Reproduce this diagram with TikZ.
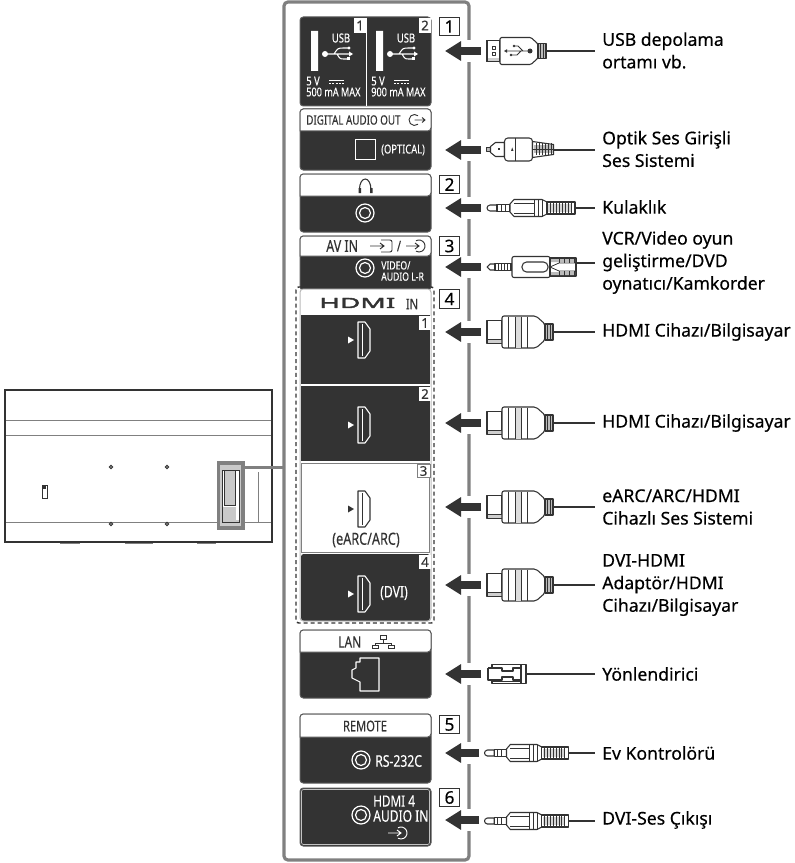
\documentclass[tikz,border=0pt]{standalone}
\usepackage{fontspec}
\usetikzlibrary{arrows.meta}
\setmainfont{Noto Sans}
\newfontfamily\labfont[FakeBold=0.4]{Noto Sans}
\newfontfamily\panfont[FakeStretch=0.76,FakeBold=0.2]{Noto Sans}
\newfontfamily\logofont[FakeStretch=2.0,FakeBold=3]{Noto Sans}
\newfontfamily\numfont[FakeBold=0.2]{Noto Sans}
\definecolor{dk}{HTML}{333333}
\definecolor{fr}{HTML}{808080}
\definecolor{lg}{HTML}{BBBBBB}
\tikzset{
 x=0.75pt,y=-0.75pt,
 lab/.style={anchor=west,inner sep=0,align=left,text=black,font=\labfont\fontsize{13.2}{16.9}\selectfont},
 pw/.style={text=white,inner sep=0,font=\panfont\fontsize{9.3}{10}\selectfont},
 pb/.style={text=dk,inner sep=0,font=\panfont\fontsize{9.7}{10}\selectfont},
 pws/.style={text=white,inner sep=0,align=left,font=\panfont\fontsize{8.5}{8.4}\selectfont},
 num/.style={draw=dk,line width=.75pt,fill=white,inner sep=0,minimum width=15pt,minimum height=14pt,font=\numfont\fontsize{13}{13}\selectfont},
 bdg/.style={fill=white,inner sep=0,minimum width=9.5pt,minimum height=10.5pt,font=\numfont\fontsize{10}{10}\selectfont,text=dk},
 frame/.style={draw=fr,line width=2.4pt,rounded corners=3pt},
 pl/.style={draw=dk,line width=.8pt,line join=round},
 cable/.style={draw=dk,line width=1.3pt,shorten >=5.2pt},
 bigarr/.style={draw=dk,line width=6pt,-{Triangle[length=12pt,width=14pt]}},
 pan/.style={draw=dk!80,line width=.75pt,fill=dk},
 panh/.style={draw=dk!80,line width=.75pt,fill=white},
 hdmiplug/.pic={
  \path[pl,fill=white] (0,-11.5) rectangle (15,11.5);
  \fill[lg!70] (0.5,7) rectangle (14.5,11);
  \draw[pl,line width=.6pt] (0,7)--(15,7);
  \path[pl,fill=white,rounded corners=1.5pt] (15,-16)--(49,-16)--(58,-8)--(58,8)--(49,16)--(15,16)--cycle;
  \fill[lg!50] (28,-15.5) rectangle (34.6,15.5);
  \foreach \q in {21,28,34.6,40}{\draw[pl,line width=.6pt] (\q,-15.5)--(\q,15.5);}
  \path[pl,fill=lg] (58,-8) rectangle (66,8);
  \foreach \q in {60.5,63}{\draw[dk,line width=.5pt] (\q,-8)--(\q,8);}
 },
 usbplug/.pic={
  \path[pl,fill=white] (0,-10.5) rectangle (13,10.5);
  \fill[lg!70] (0,7.5) rectangle (13,10.5);
  \draw[pl] (0,-10.5) rectangle (13,10.5);
  \draw[pl,line width=.6pt] (5.5,-4.5) rectangle (8.5,-1.5) (5.5,1.5) rectangle (8.5,4.5);
  \path[pl,fill=white,rounded corners=1pt] (13,-13.5)--(44,-13.5)--(51,-7)--(51,7)--(44,13.5)--(13,13.5)--cycle;
  \path[pl,fill=lg] (51,-7.5) rectangle (59,7.5);
  \foreach \q in {53.5,56}{\draw[dk,line width=.5pt] (\q,-7.5)--(\q,7.5);}
  \fill[dk] (43,0) circle (2.5);
  \draw[pl,line width=.7pt] (43,0)--(20,0) (36,0)--(31,-5)--(27,-5) (34,0)--(30,4)--(24,4);
  \fill[dk] (27,-5) circle (1.3) (24,4) circle (1.3) (20,-1.8)--(20,1.8)--(17,0)--cycle;
 },
 optplug/.pic={
  \path[pl,fill=lg] (0,-2) rectangle (4,2);
  \path[pl,fill=white] (4,-3)--(9,-7)--(18,-7)--(18,7)--(9,7)--(4,3)--cycle;
  \fill[dk] (11,-1) rectangle (13,1);
  \path[pl,fill=white,rounded corners=2.5pt] (18,-11.5) rectangle (46,11.5);
  \draw[pl] (29,-11.5)--(29,11.5);
  \fill[dk] (24.5,1.5)--(27,1.5)--(25.7,-2)--cycle;
  \path[pl,fill=white] (46,-8)--(67,-5)--(67,5)--(46,8)--cycle;
  \fill[lg] (47,-4) rectangle (66,4);
  \foreach \q in {50,53,56,59,62,65}{\draw[dk,line width=.55pt] (\q,-6)--(\q,6);}
  \draw[dk,line width=.9pt] (46,0)--(67,0);
 },
 jackplug/.pic={
  \path[pl,fill=white] (10,-3)--(3,-3)..controls (1,-3) and (0,-1) ..(0,0)..controls (0,1) and (1,3) ..(3,3)--(10,3)--cycle;
  \path[pl,fill=white] (10,-3.5) rectangle (23,3.5);
  \foreach \q in {14,18}{\draw[pl,line width=.6pt] (\q,-3.5)--(\q,3.5);}
  \path[pl,fill=white] (23,-4)--(27,-8.5)--(55,-8.5)--(60,-6)--(60,6)--(55,8.5)--(27,8.5)--(23,4)--cycle;
  \draw[pl,line width=.6pt] (27,-5)--(47,-5) (27,5)--(47,5) (47,-8.5)--(47,8.5) (55,-8.5)--(55,8.5) (51,-8.5)--(51,8.5);
  \path[pl,fill=white] (60,-6) rectangle (88,6);
  \fill[lg!60] (61,-4) rectangle (84,4);
  \foreach \q in {63,66,...,84}{\draw[dk,line width=.55pt] (\q,-5.5)--(\q,5.5);}
 },
 vcrplug/.pic={
  \path[pl,fill=white] (8,-3)--(3,-3)--(0,0)--(3,3)--(8,3)--cycle;
  \path[pl,fill=white] (8,-3.5) rectangle (25,3.5);
  \foreach \q in {11,14,17,20,23}{\draw[dk,line width=.6pt] (\q,-3.5)--(\q,3.5);}
  \path[pl,fill=white,rounded corners=1.5pt] (25,-10.5) rectangle (63,10.5);
  \path[pl,fill=white,rounded corners=3.4pt] (35,-5) rectangle (61,5);
  \path[pl,fill=white] (63,-9) rectangle (89,9);
  \fill[lg] (64,-8) rectangle (88,-5) (64,5) rectangle (88,8);
  \draw[pl,line width=.6pt] (63,0)--(72,-4)--(89,-4) (63,0)--(72,4)--(89,4);
  \foreach \q in {72,77,82,87}{\draw[dk,line width=.55pt] (\q,-9)--(\q,-4) (\q,4)--(\q,9);}
 },
 lanplug/.pic={
  \path[pl,fill=white] (4,-9.5) rectangle (38,9.5);
  \draw[pl,fill=white] (0,-6)--(4,-6) (0,-6)--(0,6)--(14,6)--(14,3)--(25,3)--(25,6)--(33,6)--(33,-6)--(25,-6)--(25,-3)--(14,-3)--(14,-6)--(4,-6);
  \draw[pl] (33,-9.5)--(33,9.5);
  \draw[pl,line width=.6pt] (4,6)--(4,9.5) (4,7.5)--(33,7.5);
 },
 usbsym/.pic={
  \fill[white] (-14,0) circle (3);
  \draw[white,line width=.8pt] (-14,0)--(11,0) (-5,0)..controls(-1,-6)..(5,-6)--(10,-6) (-2,0)..controls(1,5)..(5,5)--(9,5);
  \fill[white] (14,0)--(10,-2.5)--(10,2.5)--cycle (10,-6) circle (1.6);
  \fill[white] (8,3.5) rectangle (11,6.5);
 },
 jacksym/.pic={
  \draw[white,line width=.9pt] (0,0) circle (9);
  \draw[white,line width=.9pt] (0,0) circle (5.5);
 },
 hdmiport/.pic={
  \draw[tikzcolor,line width=.8pt,line join=round] (-6,-18)--(1,-18)--(6,-11)--(6,11)--(1,18)--(-6,18)--cycle;
  \draw[tikzcolor,line width=.6pt] (-2,-16)--(-2,16);
  \fill[tikzcolor] (-16,-3.5)--(-10,0)--(-16,3.5)--cycle;
 },
 insym/.pic={
  \draw[tikzcolor,line width=.7pt] (-13,0)--(0,0) (-4,-3)--(0,0)--(-4,3);
  \draw[tikzcolor,line width=.7pt] (0,0) ++(-120:6) arc[start angle=-120,end angle=120,radius=6];
 },
 insymb/.pic={
  \draw[tikzcolor,line width=.7pt] (-14,0)--(0,0) (-4,-3)--(0,0)--(-4,3);
  \draw[tikzcolor,line width=.7pt,rounded corners=1.5pt] (-3,-6) -- (8,-6) -- (8,6) -- (-3,6);
 },
 outsym/.pic={
  \draw[tikzcolor,line width=.7pt] (0,0)--(10.5,0) (7.5,-2.5)--(10.5,0)--(7.5,2.5);
  \draw[tikzcolor,line width=.7pt] (0,0) ++(50:5.5) arc[start angle=50,end angle=310,radius=5.5];
 },
}
\colorlet{tikzcolor}{dk}
\begin{document}
\begin{tikzpicture}
\useasboundingbox (0,0) rectangle (794,863);
% TV
\draw[draw=dk,line width=1.6pt] (5,390) rectangle (272,542);
\draw[fr,line width=.75pt] (6,420)--(271,420);
\draw[fr,line width=.75pt] (6,435)--(271,435);
\draw[fr,line width=.6pt] (6,522)--(271,522);
\draw[fr,line width=.6pt] (258,472)--(258,522);
\foreach \q in {111,167}{\draw[dk,line width=.7pt] (\q,467) circle (1.6) (\q,524) circle (1.6);}
\draw[dk,line width=.7pt] (42,485) rectangle (47,498);
\fill[dk] (43,486) rectangle (46,489);
\foreach \a/\b in {60/80,125/153,197/216}{\draw[fr,line width=1.2pt] (\a,543.5)--(\b,543.5);}
\fill[lg!80] (219,464) rectangle (242,527);
\fill[white] (222,470) rectangle (239,520);
\fill[lg!80] (224,470) rectangle (235,505);
\fill[lg!80] (222,507) rectangle (236,520);
\draw[dk,line width=.7pt] (222,470) rectangle (239,522);
\draw[dk,line width=.6pt] (224,470)--(224,505)--(235,505)--(235,470);
\draw[fr,line width=2.4pt] (218.5,463) rectangle (243,528);
\coordinate (tvport) at (243,467.5);
% frame
\draw[frame] (284,2) rectangle (469,860);
\coordinate (framel) at (284,467.5);
\draw[fr,line width=2.4pt] (tvport)--(framel);
% USB panel
\draw[pan,rounded corners=2.5pt] (300,17) rectangle (431,106);
\draw[white,line width=.6pt] (366,18)--(366,106);
\node[bdg,minimum height=11.5pt] (u1b) at (360,25.5) {1};
\node[bdg,minimum height=11.5pt] (u2b) at (425,25.5) {2};
\fill[white] (311,31) rectangle (318,71) (376,31) rectangle (383,71);
\node[pw] (u1t) at (341,38) {USB};
\node[pw] (u2t) at (406,38) {USB};
\pic at (339,54) {usbsym};
\pic at (404,54) {usbsym};
\node[pw,anchor=west] (u1v) at (306,81) {5 V};
\node[pw,anchor=west] (u2v) at (371,81) {5 V};
\draw[white,line width=.6pt] (329,80)--(344,80) (394,80)--(409,80);
\draw[white,line width=.6pt,dash pattern=on 1.5pt off 1pt] (329,83)--(344,83) (394,83)--(409,83);
\node[pw,anchor=west,font=\panfont\fontsize{9}{10}\selectfont] (u1m) at (306,92) {500 mA MAX};
\node[pw,anchor=west,font=\panfont\fontsize{9}{10}\selectfont] (u2m) at (371,92) {900 mA MAX};
% Digital
\draw[pan,rounded corners=2.5pt] (300,109) rectangle (431,170);
\draw[panh,rounded corners=2.5pt] (300,131)--(300,109)--(431,109)--(431,131)[sharp corners]--cycle;
\node[pb,anchor=west] (dt) at (306,120) {DIGITAL AUDIO OUT};
\pic at (414.5,120) {outsym};
\draw[white,line width=.75pt] (355,140) rectangle (375,160);
\node[pw,anchor=west,font=\panfont\fontsize{9.2}{10}\selectfont] (dopt) at (381,150) {(OPTICAL)};
% Headphone
\draw[pan,rounded corners=2.5pt] (300,174) rectangle (431,232);
\draw[panh,rounded corners=2.5pt] (300,196)--(300,174)--(431,174)--(431,196)[sharp corners]--cycle;
\draw[dk,line width=.8pt] (359.5,189) arc[start angle=180,end angle=360,x radius=5.7,y radius=10];
\fill[dk] (358.5,188) rectangle (361,193) (370,188) rectangle (372.5,193);
\pic at (365,213) {jacksym};
% AV IN
\draw[pan,rounded corners=2.5pt] (300,236) rectangle (431,290);
\draw[panh,rounded corners=2.5pt] (300,256)--(300,236)--(431,236)--(431,256)[sharp corners]--cycle;
\node[pb,anchor=west,font=\panfont\fontsize{12.3}{12}\selectfont] (avt) at (326,246) {AV IN};
\pic at (384,246) {insymb};
\node[pb,font=\panfont\fontsize{11}{12}\selectfont] (avs) at (399,246) {/};
\pic at (419,246) {insym};
\pic at (365,268) {jacksym};
\node[pws,anchor=west] (avv) at (381,271) {VIDEO/\\AUDIO L-R};
% HDMI dashed
\draw[dk,line width=1.1pt,dash pattern=on 3pt off 2.2pt,rounded corners=2pt] (296,287) rectangle (434,623);
\draw[draw=lg,fill=white,line width=.75pt,rounded corners=2.5pt] (300,289) rectangle (431,621);
\node[pb,anchor=west,inner sep=0,font=\logofont\fontsize{10.5}{12}\selectfont] (hl) at (319,303) {HDMI};
\node[pb,font=\panfont\fontsize{11}{12}\selectfont] (hin) at (412,304) {IN};
\fill[dk] (301,315) rectangle (430,384);
\fill[dk] (301,386) rectangle (430,461);
\draw[fr,line width=.75pt] (301.5,463) rectangle (429.5,552);
\fill[dk,rounded corners=2pt] (301,554)--(430,554)--(430,620.5)--(301,620.5)--cycle;
\node[bdg,minimum width=9.5pt,minimum height=11pt] (h1b) at (425,323) {1};
\node[bdg,minimum width=9.5pt,minimum height=10pt] (h2b) at (425,394) {2};
\node[bdg,draw=fr,line width=.5pt,minimum height=10pt] (h3b) at (423.5,471) {3};
\node[bdg,minimum width=9.5pt,minimum height=10pt] (h4b) at (425,562) {4};
\colorlet{tikzcolor}{white}
\pic at (364,340) {hdmiport};
\pic at (364,425) {hdmiport};
\pic at (364,594) {hdmiport};
\colorlet{tikzcolor}{dk}
\pic at (364,509) {hdmiport};
\node[pb,font=\panfont\fontsize{12.5}{11}\selectfont] (earc) at (366,540) {(eARC/ARC)};
\node[pw,font=\panfont\fontsize{12}{11}\selectfont] (dvi) at (394,593) {(DVI)};
% LAN
\draw[pan,rounded corners=2.5pt] (300,630) rectangle (431,698);
\draw[panh,rounded corners=2.5pt] (300,652)--(300,630)--(431,630)--(431,652)[sharp corners]--cycle;
\node[pb,anchor=west,font=\panfont\fontsize{11.8}{11}\selectfont] (lant) at (338,642) {LAN};
\draw[dk,line width=.55pt] (380,635) rectangle (386,639) (383,639)--(383,643) (375,643)--(391,643)
 (375,643)--(375,645) (391,643)--(391,645) (372,645) rectangle (378,648) (388,645) rectangle (394,648);
\draw[white,line width=.8pt,line join=round] (379,658)--(379,691)--(360,691)--(360,682)--(352,678)--(352,670)--(356,668)--(356,662)--(360,662)--(360,658)--cycle;
% REMOTE
\draw[pan,rounded corners=2.5pt] (300,714) rectangle (431,783);
\draw[panh,rounded corners=2.5pt] (300,737)--(300,714)--(431,714)--(431,737)[sharp corners]--cycle;
\node[pb,font=\panfont\fontsize{11}{11}\selectfont] (remt) at (365,726) {REMOTE};
\pic at (361,760) {jacksym};
\node[pw,anchor=west,font=\panfont\fontsize{12}{12}\selectfont] (rst) at (375,761) {RS-232C};
% HDMI4 audio
\draw[pan,rounded corners=2.5pt] (300,788) rectangle (431,846);
\draw[white!70!dk,line width=.5pt,rounded corners=1.5pt] (301.5,789.5) rectangle (429.5,844.5);
\node[pw,anchor=west,font=\panfont\fontsize{11.6}{12}\selectfont] (ha1) at (373,801) {HDMI 4};
\node[pw,anchor=west,font=\panfont\fontsize{11.9}{12}\selectfont] (ha2) at (373,816) {AUDIO IN};
\pic at (361,815) {jacksym};
\colorlet{tikzcolor}{white}
\pic at (401,833) {insym};
\colorlet{tikzcolor}{dk}
% numbers
\node[num] (n1) at (449.5,26.5) {1};
\node[num] (n2) at (449.5,184.5) {2};
\node[num] (n3) at (449.5,246) {3};
\node[num] (n4) at (449.5,299) {4};
\node[num] (n5) at (449.5,724.5) {5};
\node[num] (n6) at (449.5,797.5) {6};
% arrows
\foreach \nm/\yy/\xe in {a/51/481,b/150/481,c/208/481,d/267/481,e/332/481,f/423/481,g/507/481,h/585/481,i/674/481,j/753/479,k/820/479}{
 \fill[white] (463,\yy-11) rectangle (475,\yy+11);
 \coordinate (s\nm) at (\xe,\yy);
 \coordinate (t\nm) at (445,\yy);
 \draw[bigarr] (s\nm)--(t\nm);
}
% labels
\node[lab] (la) at (602,50.5) {USB depolama\\ortamı vb.};
\node[lab] (lb) at (602,149) {Optik Ses Girişli\\Ses Sistemi};
\node[lab] (lc) at (602,207) {Kulaklık};
\node[lab] (ld) at (602,262.5) {VCR/Video oyun\\geliştirme/DVD\\oynatıcı/Kamkorder};
\node[lab] (le) at (602,332) {HDMI Cihazı/Bilgisayar};
\node[lab] (lf) at (602,423) {HDMI Cihazı/Bilgisayar};
\node[lab] (lg) at (602,507) {eARC/ARC/HDMI\\Cihazlı Ses Sistemi};
\node[lab] (lh) at (602,585) {DVI-HDMI\\Adaptör/HDMI\\Cihazı/Bilgisayar};
\node[lab] (li) at (602,674) {Yönlendirici};
\node[lab] (lj) at (602,753) {Ev Kontrolörü};
\node[lab] (lk) at (602,820) {DVI-Ses Çıkışı};
% plugs and cables
\coordinate (pa) at (546,51);   \draw[cable] (pa)--(pa-|la.west);
\coordinate (pb) at (553,150);\draw[cable] (pb)--(pb-|lb.west);
\coordinate (pc) at (575,208);  \draw[cable] (pc)--(pc-|lc.west);
\coordinate (pd) at (576,263);  \draw[cable] (pd)--(pd-|ld.west);
\coordinate (pe) at (553,332);  \draw[cable] (pe)--(pe-|le.west);
\coordinate (pf) at (553,423);  \draw[cable] (pf)--(pf-|lf.west);
\coordinate (pg) at (553,507);  \draw[cable] (pg)--(pg-|lg.west);
\coordinate (ph) at (553,585);  \draw[cable] (ph)--(ph-|lh.west);
\coordinate (pi) at (526,674);  \draw[cable] (pi)--(pi-|li.west);
\coordinate (pj) at (568,753);  \draw[cable] (pj)--(pj-|lj.west);
\coordinate (pk) at (568,821);  \draw[cable] (pk)--(pk-|lk.west);
\pic at (487,51) {usbplug};
\pic at (486.5,149.5) {optplug};
\pic at (487,208) {jackplug};
\pic at (487,267) {vcrplug};
\pic at (487,332) {hdmiplug};
\pic at (487,423) {hdmiplug};
\pic at (487,507) {hdmiplug};
\pic at (487,585) {hdmiplug};
\pic at (488,674) {lanplug};
\pic[xscale=.955] at (484.5,753) {jackplug};
\pic[xscale=.955] at (484.5,821) {jackplug};
\end{tikzpicture}
\end{document}
